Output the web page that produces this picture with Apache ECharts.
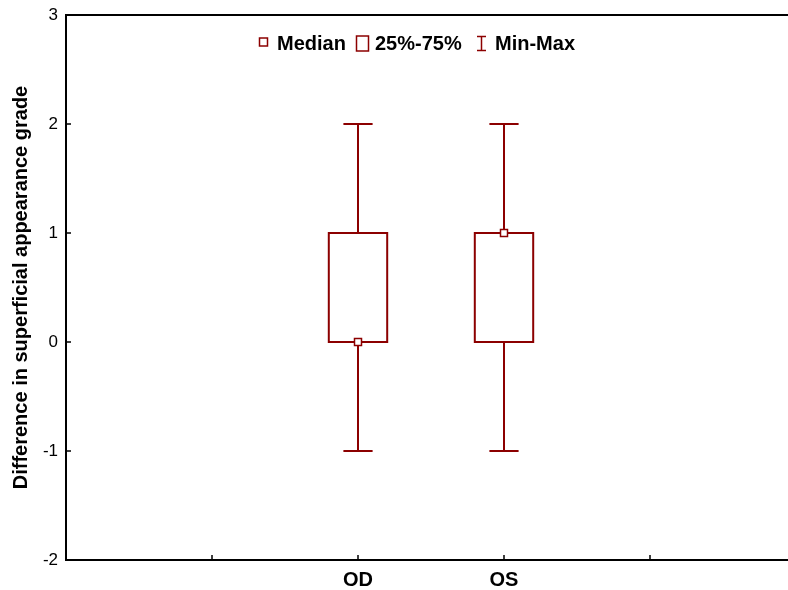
<!DOCTYPE html>
<html>
<head>
<meta charset="utf-8">
<script src="https://cdn.jsdelivr.net/npm/echarts@6/dist/echarts.min.js"></script>
<style>
html, body { margin: 0; padding: 0; background: #fff; }
#boxChart { width: 788px; height: 590px; }
</style>
</head>
<body>
<div id="boxChart"></div>
<script>
// axis categories (blank slots keep OD / OS on the inner ticks)
var categories = ['', '', 'OD', 'OS', '', ''];
var yTicks = [-2, -1, 0, 1, 2, 3];

// box plot values, one entry per group
var groups = ['OD', 'OS'];
var minVals = [-1, -1];
var q1Vals = [0, 0];
var medianVals = [0, 1];
var q3Vals = [1, 1];
var maxVals = [2, 2];

var RED = '#8c0000';
var FONT = '"Liberation Sans", Arial, sans-serif';

function boxData()
{
	var rows = [];
	for (var i = 0; i < groups.length; i++) {
		rows.push([groups[i], minVals[i], q1Vals[i], medianVals[i], q3Vals[i], maxVals[i]]);
	}
	return rows;
}

function renderBox(params, api)
{
	var x = api.value(0);
	var pMin = api.coord([x, api.value(1)]);
	var pQ1 = api.coord([x, api.value(2)]);
	var pMed = api.coord([x, api.value(3)]);
	var pQ3 = api.coord([x, api.value(4)]);
	var pMax = api.coord([x, api.value(5)]);
	var band = api.size([1, 0])[0];
	var bw = band * 0.4, cw = band * 0.2;
	var ls = { stroke: RED, lineWidth: 2, fill: null };
	return {
		type: 'group',
		children: [
			{ type: 'line', shape: { x1: pMax[0], y1: pMax[1], x2: pQ3[0], y2: pQ3[1] }, style: ls },
			{ type: 'line', shape: { x1: pMin[0], y1: pMin[1], x2: pQ1[0], y2: pQ1[1] }, style: ls },
			{ type: 'line', shape: { x1: pMax[0] - cw / 2, y1: pMax[1], x2: pMax[0] + cw / 2, y2: pMax[1] }, style: ls },
			{ type: 'line', shape: { x1: pMin[0] - cw / 2, y1: pMin[1], x2: pMin[0] + cw / 2, y2: pMin[1] }, style: ls },
			{ type: 'rect', shape: { x: pQ3[0] - bw / 2, y: pQ3[1], width: bw, height: pQ1[1] - pQ3[1] },
				style: { stroke: RED, lineWidth: 2, fill: '#fff' } },
			{ type: 'rect', shape: { x: pMed[0] - 3.5, y: pMed[1] - 3.5, width: 7, height: 7 },
				style: { stroke: RED, lineWidth: 1.5, fill: '#fff' } }
		]
	};
}

var chart = echarts.init(document.getElementById('boxChart'));
var legendText = { fill: '#000', font: 'bold 20px ' + FONT, textVerticalAlign: 'middle' };

var option = {
	animation: false,
	backgroundColor: '#fff',
	grid: {
		left: 66, top: 15, width: 730, height: 545,
		outerBoundsMode: 'none', containLabel: false,
		show: true, borderColor: '#000', borderWidth: 2, backgroundColor: 'transparent'
	},
	xAxis: {
		type: 'category',
		data: categories,
		boundaryGap: false,
		axisLine: { onZero: false, lineStyle: { color: '#000', width: 2 } },
		axisTick: { inside: true, length: 5, interval: 0, lineStyle: { color: '#000', width: 1.5 } },
		axisLabel: { interval: 0, margin: 10, color: '#000', fontFamily: FONT, fontSize: 20, fontWeight: 'bold' },
		splitLine: { show: false }
	},
	yAxis: {
		type: 'value',
		min: yTicks[0], max: yTicks[yTicks.length - 1], interval: 1,
		name: 'Difference in superficial appearance grade',
		nameLocation: 'middle',
		nameGap: 33,
		nameTextStyle: { color: '#000', fontFamily: FONT, fontSize: 20, fontWeight: 'bold' },
		axisLine: { show: true, lineStyle: { color: '#000', width: 2 } },
		axisTick: { show: true, inside: true, length: 5, lineStyle: { color: '#000', width: 1.5 } },
		axisLabel: { margin: 8, color: '#000', fontFamily: FONT, fontSize: 17 },
		splitLine: { show: false }
	},
	graphic: [
		// legend: Median
		{ type: 'rect', shape: { x: 259.5, y: 38, width: 8, height: 8 }, style: { stroke: RED, lineWidth: 1.5, fill: '#fff' } },
		{ type: 'text', x: 277, y: 44.5, style: Object.assign({ text: 'Median' }, legendText) },
		// legend: 25%-75%
		{ type: 'rect', shape: { x: 356.5, y: 36, width: 12, height: 15 }, style: { stroke: RED, lineWidth: 1.5, fill: '#fff' } },
		{ type: 'text', x: 375, y: 44.5, style: Object.assign({ text: '25%-75%' }, legendText) },
		// legend: Min-Max
		{ type: 'line', shape: { x1: 481.5, y1: 36, x2: 481.5, y2: 51 }, style: { stroke: RED, lineWidth: 1.5 } },
		{ type: 'line', shape: { x1: 477, y1: 36.5, x2: 486, y2: 36.5 }, style: { stroke: RED, lineWidth: 1.5 } },
		{ type: 'line', shape: { x1: 477, y1: 50.5, x2: 486, y2: 50.5 }, style: { stroke: RED, lineWidth: 1.5 } },
		{ type: 'text', x: 495, y: 44.5, style: Object.assign({ text: 'Min-Max' }, legendText) }
	],
	series: [
		{
			name: 'Box',
			type: 'custom',
			renderItem: renderBox,
			dimensions: ['group', 'min', 'q1', 'median', 'q3', 'max'],
			encode: { x: 0, y: [1, 2, 3, 4, 5] },
			data: boxData(),
			z: 3
		}
	]
};
chart.setOption(option);
</script>
</body>
</html>
